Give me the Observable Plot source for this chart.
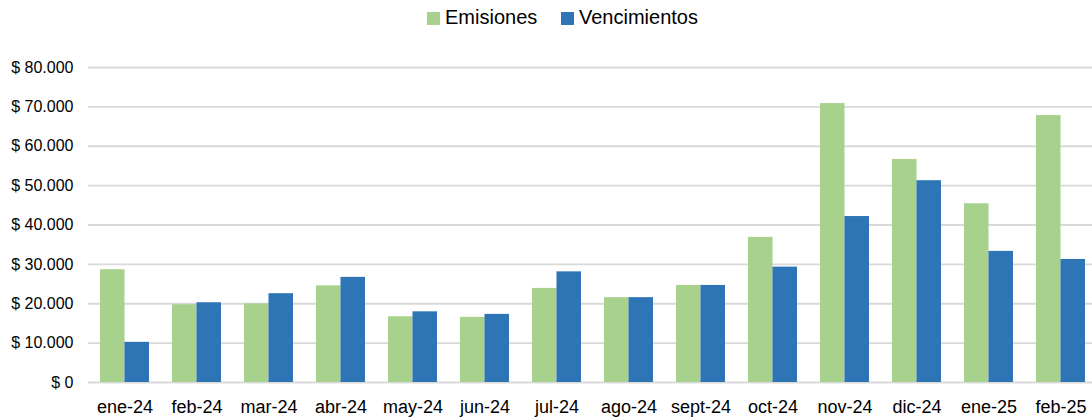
<!DOCTYPE html>
<html><head><meta charset="utf-8">
<script src="https://cdn.jsdelivr.net/npm/d3@7"></script>
<script src="https://cdn.jsdelivr.net/npm/@observablehq/plot@0.6"></script>
<style>
body{margin:0;background:#fff;font-family:"Liberation Sans",Arial,sans-serif;}
#legend{position:relative;height:40px;width:1092px;font-size:20px;color:#000;}
.item{position:absolute;top:6px;display:flex;align-items:center;}
.sw{width:13px;height:13px;margin-right:5px;margin-top:2px;}
</style></head>
<body>
<div id="legend"></div>
<div id="chart"></div>
<script>
const months = ["ene-24","feb-24","mar-24","abr-24","may-24","jun-24","jul-24","ago-24","sept-24","oct-24","nov-24","dic-24","ene-25","feb-25"];
const series = ["Emisiones","Vencimientos"];
const emisiones = [28650,19750,19980,24550,16700,16550,23900,21550,24650,36850,70850,56650,45400,67800];
const vencimientos = [10200,20250,22550,26700,17950,17300,28100,21550,24650,29300,42150,51250,33300,31250];
const yTicks = [0,10000,20000,30000,40000,50000,60000,70000,80000];
const colors = ["#A9D18E","#2E75B6"];

const data = [];
months.forEach((m,i)=>{
  data.push({month:m, serie:series[0], value:emisiones[i]});
  data.push({month:m, serie:series[1], value:vencimientos[i]});
});

const fmt = d => "$ " + (d===0 ? "0" : d3.format(",")(d).replace(/,/g,"."));

// legend
const leg = document.getElementById("legend");
const lpos = [427, 561];
series.forEach((s,i)=>{
  const it = document.createElement("div");
  it.className="item"; it.style.left=lpos[i]+"px";
  const sw=document.createElement("span"); sw.className="sw"; sw.style.background=colors[i];
  const t=document.createElement("span"); t.textContent=s;
  it.appendChild(sw); it.appendChild(t); leg.appendChild(it);
});

const xRange=[88,1096], pIn=0.32, pOut=0.16;
const step=(xRange[1]-xRange[0])/(months.length - pIn + 2*pOut);
const bw=step*(1-pIn);

const chart = Plot.plot({
  width:1092, height:378,
  marginLeft:88, marginRight:0, marginTop:27, marginBottom:36,
  style:{fontFamily:'"Liberation Sans",Arial,sans-serif', color:"#000", background:"#fff"},
  x:{domain:months, range:xRange, paddingInner:pIn, paddingOuter:pOut, label:null},
  y:{domain:[0,80000], label:null},
  marks:[
    Plot.ruleY(yTicks,{stroke:"#d9d9d9", strokeWidth:1.8}),
    Plot.barY(data.filter(d=>d.serie===series[0]),{x:"month", y:"value", fill:colors[0], insetLeft:0, insetRight:bw/2}),
    Plot.barY(data.filter(d=>d.serie===series[1]),{x:"month", y:"value", fill:colors[1], insetLeft:bw/2, insetRight:0}),
    Plot.axisX({tickSize:0, tickPadding:18, fontSize:18, label:null}),
    Plot.axisY({ticks:yTicks, tickFormat:fmt, tickSize:0, tickPadding:15, fontSize:16, label:null})
  ]
});
document.getElementById("chart").appendChild(chart);
</script>
</body></html>
